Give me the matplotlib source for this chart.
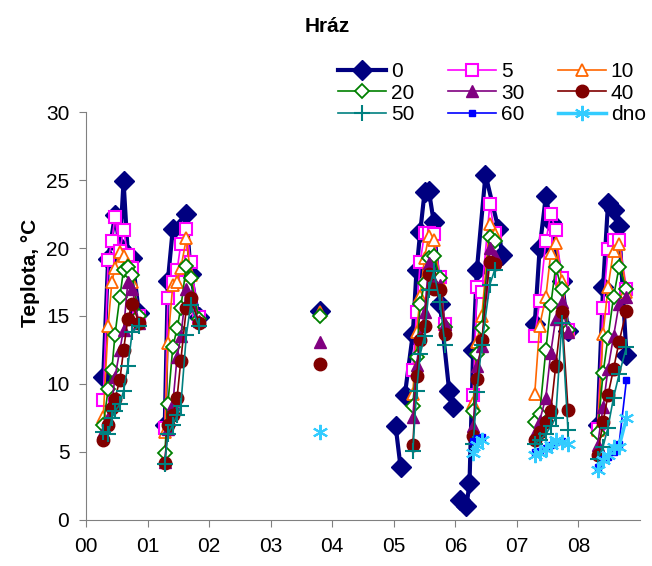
"""
Water temperature profiles at the dam (Hráz), 2000-2008, one line per depth.
"""
import numpy as np
import matplotlib
matplotlib.use("Agg")
import matplotlib.pyplot as plt

n = np.nan

# sampling dates in years since 2000, seasons split the lines
dates = [0.28, 0.36, 0.42, 0.47, 0.55, 0.61, 0.68, 0.75, 0.86,
         1.28, 1.33, 1.41, 1.48, 1.54, 1.63, 1.70, 1.83,
         3.80,
         5.03, 5.11,
         5.18, 5.31, 5.37, 5.43, 5.50, 5.57, 5.65, 5.75, 5.83, 5.90, 5.96,
         6.07, 6.18, 6.23, 6.29, 6.35, 6.43, 6.49, 6.56, 6.64, 6.70, 6.76,
         7.29, 7.37, 7.47, 7.55, 7.63, 7.73, 7.83,
         8.31, 8.40, 8.48, 8.57, 8.66, 8.78]
season = [0] * 9 + [1] * 8 + [2] + [3] * 2 + [4] * 11 + [5] * 11 + [6] * 7 + [7] * 6

t0 = ([10.5, 19.2, n, 22.4, 20.1, 24.9, 19.5, 19.3, 15.2]
      + [7.0, 17.6, 21.4, n, n, 22.5, 18.1, 14.9]
      + [15.4]
      + [6.9, 3.9]
      + [9.2, 13.7, 18.4, 21.2, 24.1, 24.2, 21.9, 15.9, n, 9.5, 8.3]
      + [1.5, 1.0, 2.7, 12.5, 18.4, n, 25.4, n, n, 21.4, 19.5]
      + [14.4, 20.0, 23.8, 21.9, n, 17.6, 13.9]
      + [7.0, 17.1, 23.3, 22.8, 21.6, 12.1])
t5 = ([8.8, 19.1, 20.5, 22.3, 19.8, 21.3, 19.5, 18.5, 15.0]
      + [6.8, 16.3, 17.5, 18.4, 20.3, 21.4, 19.0, 14.9]
      + [n]
      + [n, n]
      + [n, 11.0, 15.3, 19.0, 21.1, 21.1, 21.0, 17.9, 14.4, n, n]
      + [n, n, n, 9.2, 17.1, 16.8, n, 23.2, 21.1, n, n]
      + [13.5, 16.1, 20.5, 22.5, 21.3, 17.8, 14.0]
      + [6.7, 15.6, 19.9, 20.6, 20.6, 17.0])
t10 = ([7.6, 14.3, 17.5, 18.5, 19.7, 19.4, 18.8, 17.5, 14.8]
       + [6.5, 13.0, 17.3, 17.5, 18.5, 20.7, 18.0, 14.8]
       + [15.3]
       + [n, n]
       + [n, 9.3, 13.8, 16.5, 19.3, 20.9, 20.6, 17.5, 14.4, n, n]
       + [n, n, n, 8.6, 13.1, 15.0, n, 21.8, 21.0, n, n]
       + [9.3, 14.3, 16.4, 19.6, 20.4, 17.6, 14.0]
       + [6.6, 13.7, 17.1, 19.8, 20.3, 16.8])
t20 = ([7.0, 9.6, 11.0, 13.6, 16.4, 18.4, 18.6, 18.0, 15.0]
       + [4.9, 8.5, 12.7, 14.1, 15.6, 18.7, 17.8, 14.8]
       + [15.0]
       + [n, n]
       + [n, 8.4, 12.0, 15.9, 17.4, 19.3, 19.4, 17.8, 14.2, n, n]
       + [n, n, n, 8.0, 12.2, 14.1, n, 20.8, 20.5, n, n]
       + [7.2, 7.8, 12.5, 15.8, 18.6, 17.0, 14.0]
       + [6.4, 10.8, 13.4, 16.4, 18.6, 17.0])
t30 = ([6.5, 7.5, 8.5, 10.5, 12.5, 14.0, 17.5, 17.0, 14.5]
       + [4.3, 6.7, 8.5, 12.0, 13.5, 17.0, 16.5, 14.6]
       + [13.1]
       + [n, n]
       + [n, 7.6, 11.4, 13.5, 15.3, 18.9, 17.5, 17.3, 14.4, n, n]
       + [n, n, n, 6.9, 11.3, 12.8, n, 20.0, 19.4, n, n]
       + [6.4, 7.3, 9.0, 12.3, 14.8, 16.0, 13.8]
       + [5.5, 8.3, 11.1, 13.5, 15.9, 16.4])
t40 = ([5.9, 7.0, 8.2, 8.9, 10.3, 12.5, 14.8, 15.9, 14.5]
       + [4.2, 7.0, 7.7, 9.0, 11.7, 15.6, 16.3, 14.5]
       + [11.5]
       + [n, n]
       + [n, 5.5, 10.6, 13.2, 14.3, 18.1, 17.0, 16.9, 13.7, n, n]
       + [n, n, n, 6.2, 10.4, 13.2, n, 19.0, 18.8, n, n]
       + [5.9, 6.5, 7.2, 8.0, 11.3, 15.3, 8.1]
       + [4.8, 7.2, 9.2, 11.1, 13.1, 15.4])
t50 = ([6.5, 6.3, 7.5, 8.0, 8.5, 9.5, 11.3, 13.8, 14.3]
       + [4.1, 6.3, 7.0, 7.7, 8.4, 13.6, 15.8, 14.3]
       + [n]
       + [n, n]
       + [n, 5.1, 9.5, 12.2, 13.5, 16.9, 18.3, 16.0, 12.9, n, n]
       + [n, n, n, 5.6, 9.4, 12.9, n, 17.3, 18.4, n, n]
       + [5.6, 5.9, 6.3, 6.9, 7.5, 14.5, 6.6]
       + [4.5, 5.4, 6.8, 9.0, 10.7, 12.7])
t60 = ([n] * 9 + [n] * 8 + [n] + [n, n] + [n] * 11
       + [n, n, n, 5.8, 6.0, 6.1, n, n, n, n, n]
       + [5.0, 5.1, 5.3, 5.5, 5.7, 5.8, n]
       + [3.9, 4.5, 4.6, 5.0, 5.6, 10.3])
tdno = ([n] * 9 + [n] * 8 + [6.5] + [n, n] + [n] * 11
        + [n, n, n, 4.9, 5.5, 5.9, n, n, n, n, n]
        + [4.8, 4.9, 5.2, 5.5, 5.9, 5.7, 5.6]
        + [3.7, 4.4, 4.8, 5.4, 5.4, 7.5])

labels = ["0", "5", "10", "20", "30", "40", "50", "60", "dno"]
year_ticks = ["00", "01", "02", "03", "04", "05", "06", "07", "08"]


def split_seasons(vals):
    """Drop missing values and break the line between seasons."""
    d = np.array(dates)
    s = np.array(season)
    v = np.array(vals, dtype=float)
    xs, ys = [], []
    for sid in np.unique(s):
        m = (s == sid) & ~np.isnan(v)
        xs += list(d[m]) + [np.nan]
        ys += list(v[m]) + [np.nan]
    return xs, ys


def main():
    plt.rcParams["font.family"] = ["Liberation Sans", "DejaVu Sans"]
    plt.rcParams["font.size"] = 15

    fig = plt.figure(figsize=(6.52, 5.66), dpi=100)
    ax = fig.add_axes([0.1319, 0.0813, 0.8497, 0.7208])

    styles = [
        dict(color="#000080", lw=3.0, marker="D", ms=10, mfc="#000080"),
        dict(color="#FF00FF", lw=1.2, marker="s", ms=8, mfc="white", mew=1.5),
        dict(color="#FF6600", lw=1.2, marker="^", ms=9, mfc="white", mew=1.3),
        dict(color="#008000", lw=1.2, marker="D", ms=7, mfc="white", mew=1.3),
        dict(color="#800080", lw=1.2, marker="^", ms=9, mfc="#800080"),
        dict(color="#800000", lw=1.2, marker="o", ms=9, mfc="#800000"),
        dict(color="#008080", lw=1.2, marker="+", ms=11, mew=1.5),
        dict(color="#0000FF", lw=1.2, marker="s", ms=4.5, mfc="#0000FF"),
        dict(color="#33CCFF", lw=2.5, marker=(6, 2, 0), ms=11, mew=1.5),
    ]
    series = [t0, t5, t10, t20, t30, t40, t50, t60, tdno]

    handles = []
    for vals, lab, st in zip(series, labels, styles):
        xs, ys = split_seasons(vals)
        h, = ax.plot(xs, ys, label=lab, **st)
        handles.append(h)

    ax.set_xlim(0, 9)
    ax.set_ylim(0, 30)
    ax.set_xticks(range(len(year_ticks)))
    ax.set_xticklabels(year_ticks)
    ax.set_yticks(range(0, 31, 5))
    for side in ("top", "right"):
        ax.spines[side].set_visible(False)
    for side in ("left", "bottom"):
        ax.spines[side].set_color("#808080")
    ax.tick_params(direction="out", length=5, color="#808080", pad=7)

    fig.text(327 / 652, 1 - 27 / 566, "Hráz", ha="center", va="center",
             fontweight="bold")
    fig.text(30 / 652, 1 - 273 / 566, "Teplota, °C", ha="center", va="center",
             rotation=90, fontweight="bold")

    # legend is filled row by row in the original
    order = [0, 3, 6, 1, 4, 7, 2, 5, 8]
    fig.legend([handles[i] for i in order], [labels[i] for i in order],
               ncol=3, frameon=False, loc="upper left",
               bbox_to_anchor=(338 / 652, 1 - 62 / 566),
               borderpad=0, borderaxespad=0, handlelength=2.3,
               handletextpad=0.25, columnspacing=1.6, labelspacing=0.13,
               numpoints=1)

    fig.savefig("out.png", dpi=100)


if __name__ == "__main__":
    main()
